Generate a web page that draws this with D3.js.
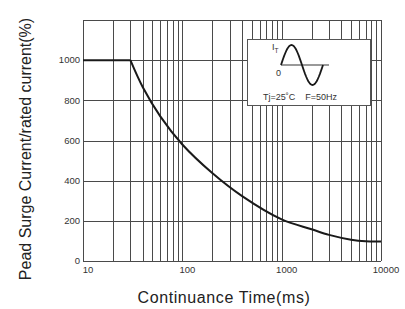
<!DOCTYPE html>
<meta charset="utf-8">
<style>
body { margin: 0; background: #fff; }
svg { font-family: "Liberation Sans", Arial, sans-serif; }
.grid line { stroke: #4a4a4a; stroke-width: 1; shape-rendering: crispEdges; }
.tick-label { font-size: 9.5px; fill: #333; }
.title { font-size: 16px; fill: #222; }
</style>
<svg width="405" height="309"></svg>
<script src="https://d3js.org/d3.v7.min.js"></script>
<script>

// surge curve
var times  = [10, 30, 40, 60, 100, 200, 400, 1000, 2000, 3000, 5000, 7000, 10000];
var values = [1000, 1000, 865, 720, 580, 438, 323, 207, 158, 130, 106, 98, 97];
var xTicks = [10, 100, 1000, 10000];
var yTicks = [0, 200, 400, 600, 800, 1000];

var svg = d3.select("svg"),
    margin = {top: 20, right: 24, bottom: 48, left: 83},
    width = 405 - margin.left - margin.right,
    height = 309 - margin.top - margin.bottom,
    g = svg.append("g").attr("transform", "translate(" + margin.left + "," + margin.top + ")");

var x = d3.scaleLog().domain([10, 10000]).range([0, width]);
var y = d3.scaleLinear().domain([0, 1200]).range([height, 0]);

// log grid 1..9 per decade
var gridX = [];
[10, 100, 1000].forEach(function(dec) {
  for (var k = 1; k < 10; k++) gridX.push(dec * k);
});
gridX.push(10000);

var grid = g.append("g").attr("class", "grid");
grid.selectAll(".vx")
  .data(gridX)
  .enter().append("line")
    .attr("x1", function(d) { return Math.round(x(d)) + 0.5; })
    .attr("x2", function(d) { return Math.round(x(d)) + 0.5; })
    .attr("y1", 0)
    .attr("y2", height)
    .attr("stroke", function(d, i) { return i % 2 ? "#777" : "#333"; });

grid.selectAll(".hy")
  .data([0, 200, 400, 600, 800, 1000, 1200])
  .enter().append("line")
    .attr("x1", 0)
    .attr("x2", width)
    .attr("y1", function(d) { return Math.round(y(d)) + 0.5; })
    .attr("y2", function(d) { return Math.round(y(d)) + 0.5; });

// tick labels
g.selectAll(".ylab")
  .data(yTicks)
  .enter().append("text")
    .attr("class", "tick-label")
    .attr("x", -3)
    .attr("y", function(d) { return y(d); })
    .attr("dy", "0.35em")
    .attr("text-anchor", "end")
    .text(function(d) { return d; });

g.selectAll(".xlab")
  .data(xTicks)
  .enter().append("text")
    .attr("class", "tick-label")
    .attr("x", function(d) { return x(d) + 5; })
    .attr("y", height + 12)
    .attr("text-anchor", "middle")
    .text(function(d) { return d; });

// curve: flat part then bending down
var knee = values.lastIndexOf(values[0]);
var pts = times.map(function(t, i) { return [x(t), y(values[i])]; });

g.append("path")
    .attr("d", d3.line()(pts.slice(0, knee + 1)))
    .attr("fill", "none")
    .attr("stroke", "#1a1a1a")
    .attr("stroke-width", 2);

g.append("path")
    .attr("d", d3.line().curve(d3.curveCatmullRom.alpha(0.5))(pts.slice(knee)))
    .attr("fill", "none")
    .attr("stroke", "#1a1a1a")
    .attr("stroke-width", 2);

// inset box
var inset = svg.append("g").attr("transform", "translate(247,39)");
inset.append("rect")
    .attr("x", 0.5).attr("y", 0.5)
    .attr("width", 123).attr("height", 66)
    .attr("fill", "#fff")
    .attr("stroke", "#555");

inset.append("line")
    .attr("x1", 34).attr("x2", 82)
    .attr("y1", 26).attr("y2", 26)
    .attr("stroke", "#777")
    .attr("stroke-width", 1.5);

var sine = d3.range(0, 41).map(function(i) {
  var a = i / 40 * 2 * Math.PI;
  return [34 + i / 40 * 42, 26 - 20 * Math.sin(a)];
});
inset.append("path")
    .attr("d", d3.line()(sine))
    .attr("fill", "none")
    .attr("stroke", "#1a1a1a")
    .attr("stroke-width", 1.8);

var it = inset.append("text")
    .attr("x", 25).attr("y", 11)
    .style("font-size", "9px").style("fill", "#333")
    .text("I");
it.append("tspan").attr("dy", 3).style("font-size", "6.5px").text("T");

inset.append("text")
    .attr("x", 29).attr("y", 37)
    .style("font-size", "9px").style("fill", "#333")
    .text("0");

inset.append("text")
    .attr("x", 16).attr("y", 61)
    .style("font-size", "9px").style("fill", "#333")
    .attr("xml:space", "preserve")
    .style("white-space", "pre")
    .text("Tj=25˚C    F=50Hz");

// axis titles
svg.append("text")
    .attr("class", "title")
    .attr("x", 224)
    .attr("y", 303)
    .attr("text-anchor", "middle")
    .style("letter-spacing", "0.6px")
    .text("Continuance Time(ms)");

svg.append("text")
    .attr("class", "title")
    .attr("transform", "translate(31,149) rotate(-90)")
    .attr("text-anchor", "middle")
    .text("Pead Surge Current/rated current(%)");

</script>
